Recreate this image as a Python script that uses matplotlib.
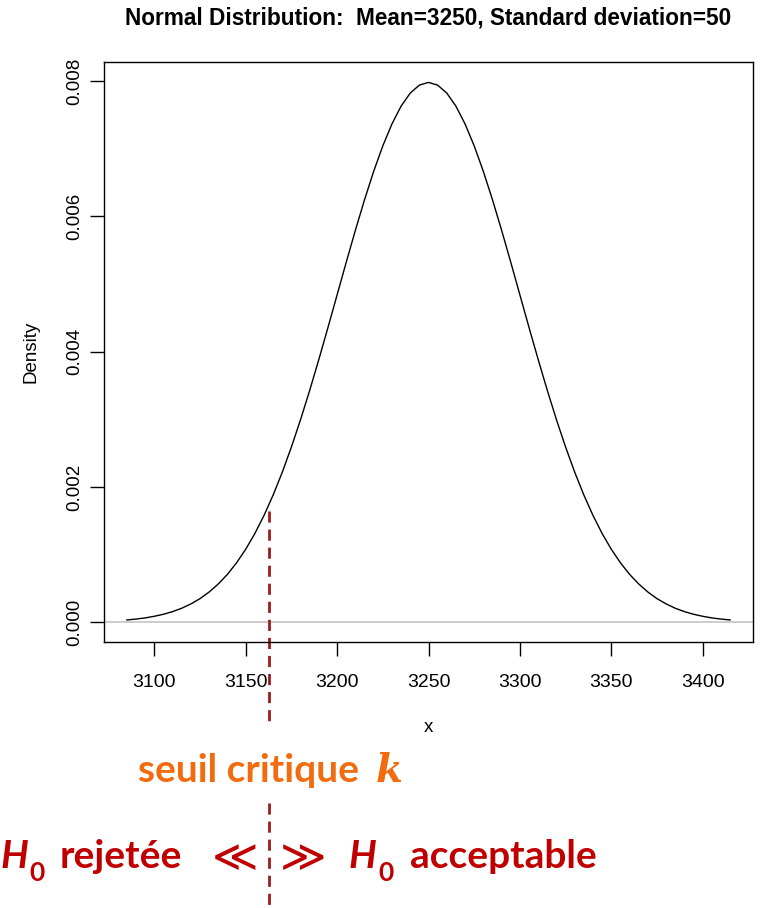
import numpy as np
import matplotlib
matplotlib.use("Agg")
import matplotlib.pyplot as plt

# density values, every 5 units from 3085 to 3415
x_vals = np.arange(3085, 3416, 5)
density = [
    0.000035, 0.000048, 0.000065, 0.000089, 0.000119, 0.000158, 0.000208,
    0.000272, 0.000350, 0.000448, 0.000567, 0.000709, 0.000880, 0.001080,
    0.001312, 0.001579, 0.001881, 0.002218, 0.002591, 0.002995, 0.003428,
    0.003884, 0.004357, 0.004839, 0.005322, 0.005794, 0.006245, 0.006664,
    0.007041, 0.007365, 0.007628, 0.007821, 0.007939, 0.007979, 0.007939,
    0.007821, 0.007628, 0.007365, 0.007041, 0.006664, 0.006245, 0.005794,
    0.005322, 0.004839, 0.004357, 0.003884, 0.003428, 0.002995, 0.002591,
    0.002218, 0.001881, 0.001579, 0.001312, 0.001080, 0.000880, 0.000709,
    0.000567, 0.000448, 0.000350, 0.000272, 0.000208, 0.000158, 0.000119,
    0.000089, 0.000065, 0.000048, 0.000035,
]
x_ticks = [3100, 3150, 3200, 3250, 3300, 3350, 3400]
y_ticks = [0.000, 0.002, 0.004, 0.006, 0.008]
k_value = 3163

title = "Normal Distribution:  Mean=3250, Standard deviation=50"

W, H = 760, 908
fig = plt.figure(figsize=(W / 100, H / 100), dpi=100)
ax = fig.add_axes([103.7 / W, 1 - 642 / H, (753.3 - 103.7) / W, (642 - 61.7) / H])

r_font = "Liberation Sans"
ax.plot(x_vals, density, color="black", lw=1.0)
ax.axhline(0, color="#c4c4c4", lw=1.2, zorder=0)
ax.set_xlim(3072.3, 3427.7)
ax.set_ylim(-0.000291, 0.008285)
ax.set_xticks(x_ticks)
ax.set_xticklabels([str(v) for v in x_ticks], fontsize=14, family=r_font)
ax.set_yticks(y_ticks)
ax.set_yticklabels([f"{v:.3f}" for v in y_ticks], fontsize=13.5, family=r_font,
                   rotation=90, va="center")
ax.tick_params(length=10, width=1)
ax.tick_params(axis="x", pad=13)
ax.tick_params(axis="y", pad=5)
for s in ax.spines.values():
    s.set_linewidth(1)
ax.set_xlabel("x", fontsize=13.5, family=r_font, labelpad=20)
ax.set_ylabel("Density", fontsize=13.5, family=r_font, labelpad=19)
fig.text(428.5 / W, 1 - 18 / H, title, ha="center", va="center",
         fontsize=16.3, fontweight="bold", family=r_font)

# critical threshold line, running below the axes
dash_col = "#9b1c1c"
ax.plot([k_value, k_value], [0.001645, -0.001474], color=dash_col, lw=2,
        ls=(0, (4, 2.5)), clip_on=False)
ax.plot([k_value, k_value], [-0.002669, -0.0043], color=dash_col, lw=2,
        ls=(0, (4, 2.5)), clip_on=False)

# annotations below the plot
ann_font = "Lato"
orange = "#f26b0f"
red = "#c00000"
fs = 28
fig.text(138 / W, 1 - 782 / H, "seuil critique", ha="left", va="baseline",
         fontsize=fs, fontweight="bold", family=ann_font, color=orange)
fig.text(376 / W, 1 - 782 / H, "k", ha="left", va="baseline", fontsize=28,
         fontweight="bold", style="italic", family="DejaVu Serif", color=orange)

base = 1 - 868 / H
sub = 1 - 881 / H
fig.text(0 / W, base, "H", ha="left", va="baseline", fontsize=fs,
         fontweight="bold", style="italic", family=ann_font, color=red)
fig.text(29 / W, sub, "0", ha="left", va="baseline", fontsize=19,
         fontweight="bold", family=ann_font, color=red)
fig.text(60 / W, base, "rejetée", ha="left", va="baseline", fontsize=fs,
         fontweight="bold", family=ann_font, color=red)
fig.text(235 / W, 1 - 858 / H, "≪", ha="center", va="center", fontsize=32,
         family=["DejaVu Sans"], color=red)
fig.text(303 / W, 1 - 858 / H, "≫", ha="center", va="center", fontsize=32,
         family=["DejaVu Sans"], color=red)
fig.text(349 / W, base, "H", ha="left", va="baseline", fontsize=fs,
         fontweight="bold", style="italic", family=ann_font, color=red)
fig.text(378 / W, sub, "0", ha="left", va="baseline", fontsize=19,
         fontweight="bold", family=ann_font, color=red)
fig.text(410 / W, base, "acceptable", ha="left", va="baseline", fontsize=fs,
         fontweight="bold", family=ann_font, color=red)

fig.savefig("out.png", dpi=100)
